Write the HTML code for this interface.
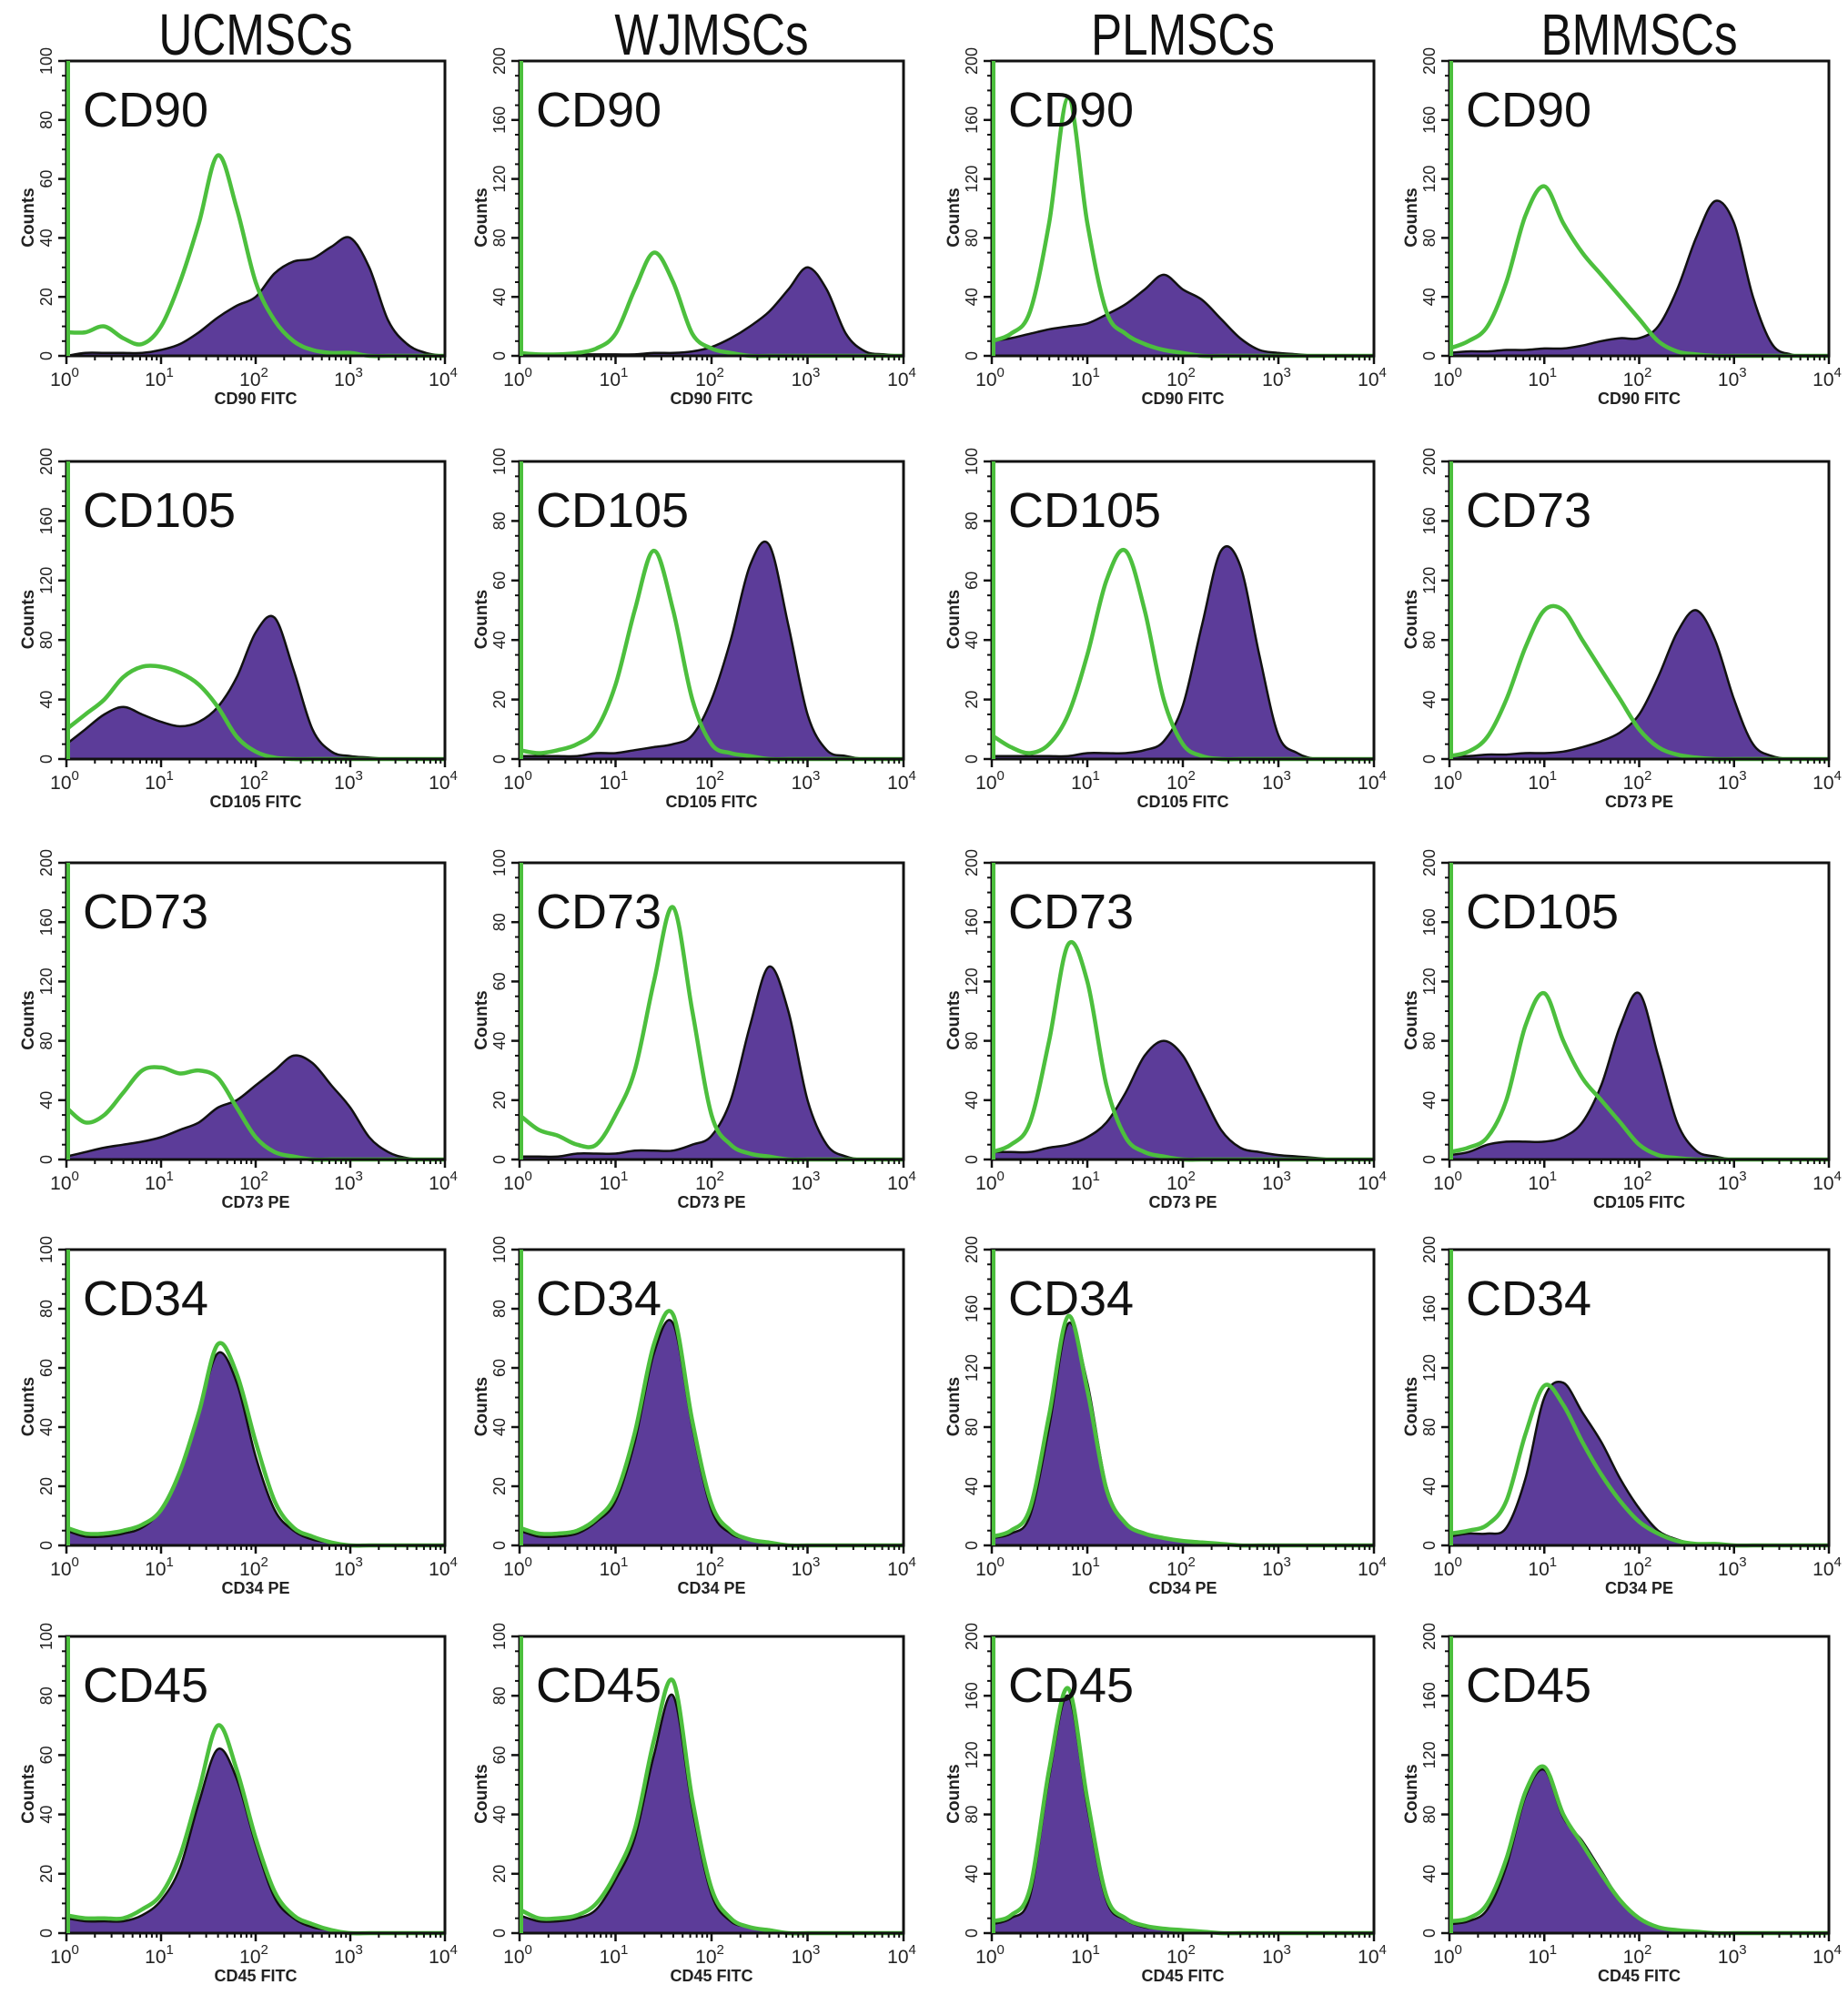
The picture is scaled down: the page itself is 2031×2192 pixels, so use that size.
<!DOCTYPE html>
<html><head><meta charset="utf-8"><style>
html,body{margin:0;padding:0;background:#fff}
svg{display:block}
text{font-family:"Liberation Sans",sans-serif}
</style></head><body>
<svg id="fig" width="2031" height="2192" viewBox="0 0 2031 2192" xmlns="http://www.w3.org/2000/svg"></svg>
<script>
// Column headers and panel layout
const columnTitles = ["UCMSCs","WJMSCs","PLMSCs","BMMSCs"];
const markerLabels = [
  ["CD90","CD90","CD90","CD90"],
  ["CD105","CD105","CD105","CD73"],
  ["CD73","CD73","CD73","CD105"],
  ["CD34","CD34","CD34","CD34"],
  ["CD45","CD45","CD45","CD45"]
];
const axisLabels = [
  ["CD90 FITC","CD90 FITC","CD90 FITC","CD90 FITC"],
  ["CD105 FITC","CD105 FITC","CD105 FITC","CD73 PE"],
  ["CD73 PE","CD73 PE","CD73 PE","CD105 FITC"],
  ["CD34 PE","CD34 PE","CD34 PE","CD34 PE"],
  ["CD45 FITC","CD45 FITC","CD45 FITC","CD45 FITC"]
];
const yMax = [
  [100,200,200,200],
  [200,100,100,200],
  [200,100,200,200],
  [100,100,200,200],
  [100,100,200,200]
];
// x positions: log10 fluorescence 0..4 step 0.2
const xLog = [0,0.2,0.4,0.6,0.8,1.0,1.2,1.4,1.6,1.8,2.0,2.2,2.4,2.6,2.8,3.0,3.2,3.4,3.6,3.8,4.0];
const xTickExp = ["0","1","2","3","4"];
// isotype (green) counts per panel, row-major
const greenCounts = [
  [8,8,10,6,4,10,25,45,68,50,25,12,5,2,1,1,0,0,0,0,0],
  [2,1,1,2,5,15,45,70,50,15,5,2,0,0,0,0,0,0,0,0,0],
  [10,15,30,90,175,90,30,15,8,4,2,0,0,0,0,0,0,0,0,0,0],
  [5,10,20,50,95,115,90,70,55,40,25,10,3,1,0,0,0,0,0,0,0],
  [20,30,40,55,62,62,58,50,35,15,5,1,0,0,0,0,0,0,0,0,0],
  [3,2,3,5,10,25,50,70,50,20,5,2,1,0,0,0,0,0,0,0,0],
  [8,4,2,5,15,35,60,70,50,20,5,1,0,0,0,0,0,0,0,0,0],
  [2,5,15,40,75,100,100,80,60,40,20,8,3,1,0,0,0,0,0,0,0],
  [35,25,30,45,60,62,58,60,55,35,15,5,2,0,0,0,0,0,0,0,0],
  [15,10,8,5,5,15,30,60,85,50,15,5,2,1,0,0,0,0,0,0,0],
  [5,10,25,80,145,120,50,15,5,2,0,0,0,0,0,0,0,0,0,0,0],
  [5,8,15,40,90,112,80,55,40,25,10,3,1,0,0,0,0,0,0,0,0],
  [6,4,4,5,7,12,25,45,68,58,35,15,6,3,1,0,0,0,0,0,0],
  [6,4,4,5,9,17,38,68,78,42,14,5,2,1,0,0,0,0,0,0,0],
  [6,10,25,88,155,105,38,15,8,5,3,2,1,0,0,0,0,0,0,0,0],
  [8,10,14,30,75,108,95,70,48,30,16,8,3,1,1,0,0,0,0,0,0],
  [6,5,5,5,8,13,26,48,70,55,32,14,6,3,1,0,0,0,0,0,0],
  [8,5,5,6,10,20,35,65,85,45,15,5,2,1,0,0,0,0,0,0,0],
  [8,12,30,110,165,90,25,10,5,3,2,1,0,0,0,0,0,0,0,0,0],
  [8,10,20,50,95,112,80,60,40,22,10,4,2,1,0,0,0,0,0,0,0]
];
// stained sample (purple) counts per panel, row-major
const purpleCounts = [
  [0,1,1,1,1,2,4,8,13,17,20,28,32,33,37,40,30,12,4,1,0],
  [1,1,1,1,1,1,1,2,2,3,6,12,20,30,45,60,45,15,3,1,0],
  [10,12,15,18,20,22,28,35,45,55,45,38,25,12,4,2,1,0,0,0,0],
  [2,3,3,4,4,5,5,7,10,12,12,20,45,80,105,90,40,8,1,0,0],
  [10,20,30,35,30,25,22,25,35,55,85,95,60,20,5,2,1,0,0,0,0],
  [1,1,1,1,2,2,3,4,5,8,20,40,65,72,45,15,3,1,0,0,0],
  [1,1,1,1,1,2,2,2,3,6,18,45,70,65,35,8,2,0,0,0,0],
  [2,2,3,3,4,4,5,8,12,18,30,55,85,100,80,40,10,2,0,0,0],
  [2,5,8,10,12,15,20,25,35,40,50,60,70,65,50,35,15,5,1,0,0],
  [1,1,1,2,2,2,3,3,3,5,8,20,45,65,50,20,5,1,0,0,0],
  [5,5,5,8,10,15,25,45,70,80,70,45,20,8,5,3,2,1,0,0,0],
  [3,5,10,12,12,12,15,25,50,90,112,70,25,6,2,0,0,0,0,0,0],
  [5,3,3,4,6,12,25,45,65,55,30,12,5,2,1,0,0,0,0,0,0],
  [5,3,3,4,8,15,35,65,75,40,12,4,2,1,0,0,0,0,0,0,0],
  [5,8,20,80,150,110,40,15,8,5,3,2,1,0,0,0,0,0,0,0,0],
  [6,8,8,12,45,100,110,90,70,45,25,10,4,1,1,0,0,0,0,0,0],
  [5,4,4,4,6,11,22,44,62,52,30,12,5,2,1,0,0,0,0,0,0],
  [6,4,4,5,8,18,32,60,80,42,13,4,2,1,0,0,0,0,0,0,0],
  [6,10,25,105,160,85,22,9,4,3,2,1,0,0,0,0,0,0,0,0,0],
  [6,8,16,45,92,110,78,62,42,22,10,4,2,1,0,0,0,0,0,0,0]
];

const colL=[73,571,1090,1593], colR=[489,993,1510,2010];
const rowT=[67,507,948,1373,1798], rowB=[399,842,1282,1706,2132];
const NS="http://www.w3.org/2000/svg";
const svg=document.getElementById('fig');
function mk(tag,attrs,parent){const e=document.createElementNS(NS,tag);for(const k in attrs)e.setAttribute(k,attrs[k]);(parent||svg).appendChild(e);return e;}

columnTitles.forEach((t,c)=>{
  const cx=(colL[c]+colR[c])/2;
  const e=mk('text',{x:0,y:0,'font-size':64,'text-anchor':'middle',fill:'#111',transform:'translate('+cx+',60) scale(0.8,1)'});
  
  
  e.textContent=t;
});

function smoothPath(pts){
  let d='M'+pts[0][0]+','+pts[0][1];
  for(let i=0;i<pts.length-1;i++){
    const p0=pts[Math.max(0,i-1)],p1=pts[i],p2=pts[i+1],p3=pts[Math.min(pts.length-1,i+2)];
    const c1x=p1[0]+(p2[0]-p0[0])/6,c1y=p1[1]+(p2[1]-p0[1])/6;
    const c2x=p2[0]-(p3[0]-p1[0])/6,c2y=p2[1]-(p3[1]-p1[1])/6;
    d+=' C'+c1x.toFixed(1)+','+c1y.toFixed(1)+' '+c2x.toFixed(1)+','+c2y.toFixed(1)+' '+p2[0].toFixed(1)+','+p2[1].toFixed(1);
  }
  return d;
}

for(let r=0;r<5;r++)for(let c=0;c<4;c++){
  const idx=r*4+c, L=colL[c],R=colR[c],T=rowT[r],B=rowB[r]-8, ym=yMax[r][c];
  const g=mk('g',{});
  
  
  const xs=v=>L+(v/4)*(R-L);
  const ys=v=>B-(Math.min(v,ym)/ym)*(B-T);
  const pp=xLog.map((x,i)=>[xs(x),ys(purpleCounts[idx][i])]);
  const pd=smoothPath(pp)+' L'+R+','+B+' L'+L+','+B+' Z';
  const pf=mk('path',{d:pd,fill:'#5c3c99',stroke:'#111','stroke-width':2.5,'stroke-linejoin':'round'},g);
  
  
  const gp=xLog.map((x,i)=>[xs(x),ys(greenCounts[idx][i])]);
  const gl=mk('path',{d:smoothPath(gp),fill:'none',stroke:'#4cbf3d','stroke-width':4.5,'stroke-linejoin':'round'},g);
  
  
  const fr=mk('rect',{x:L,y:T,width:R-L,height:B-T,fill:'none',stroke:'#111','stroke-width':3},g);
  
  
  mk('line',{x1:L+2,y1:T,x2:L+2,y2:B,stroke:'#4cbf3d','stroke-width':4},g);
  for(let k=0;k<=5;k++){
    const v=ym*k/5, y=ys(v);
    mk('line',{x1:L-9,y1:y,x2:L,y2:y,stroke:'#111','stroke-width':2.5},g);
    for(let m=1;m<4&&k<5;m++){const y2=ys(v+ym/5*m/4);mk('line',{x1:L-5,y1:y2,x2:L,y2:y2,stroke:'#111','stroke-width':2},g);}
    const t=mk('text',{x:0,y:0,'font-size':18,'text-anchor':'middle',fill:'#222',transform:'translate('+(L-16)+','+y+') rotate(-90)'},g);
    
    
    t.textContent=String(v);
  }
  const yt=mk('text',{x:0,y:0,'font-size':19,'font-weight':'bold','text-anchor':'middle',fill:'#222',transform:'translate('+(L-36)+','+((T+B)/2+10)+') rotate(-90)'},g);
  
  
  yt.textContent='Counts';
  xTickExp.forEach((e,k)=>{
    const x=xs(k);
    mk('line',{x1:x,y1:B,x2:x,y2:B+9,stroke:'#111','stroke-width':2.5},g);
    for(let m=2;m<10&&k<4;m++){const x2=xs(k+Math.log10(m));mk('line',{x1:x2,y1:B,x2:x2,y2:B+5,stroke:'#111','stroke-width':2},g);}
    const t=mk('text',{x:x-2,y:B+33,'font-size':21,'text-anchor':'middle',fill:'#222'},g);
    
    
    t.textContent='10';
    const s=mk('tspan',{dy:-10,'font-size':15},t);s.textContent=e;
  });
  const xt=mk('text',{x:(L+R)/2,y:B+53,'font-size':18,'font-weight':'bold','text-anchor':'middle',fill:'#222'},g);
  
  
  xt.textContent=axisLabels[r][c];
  const ml=mk('text',{x:L+18,y:T+72,'font-size':54,fill:'#111'},g);
  
  
  ml.textContent=markerLabels[r][c];
}
</script>
</body></html>
